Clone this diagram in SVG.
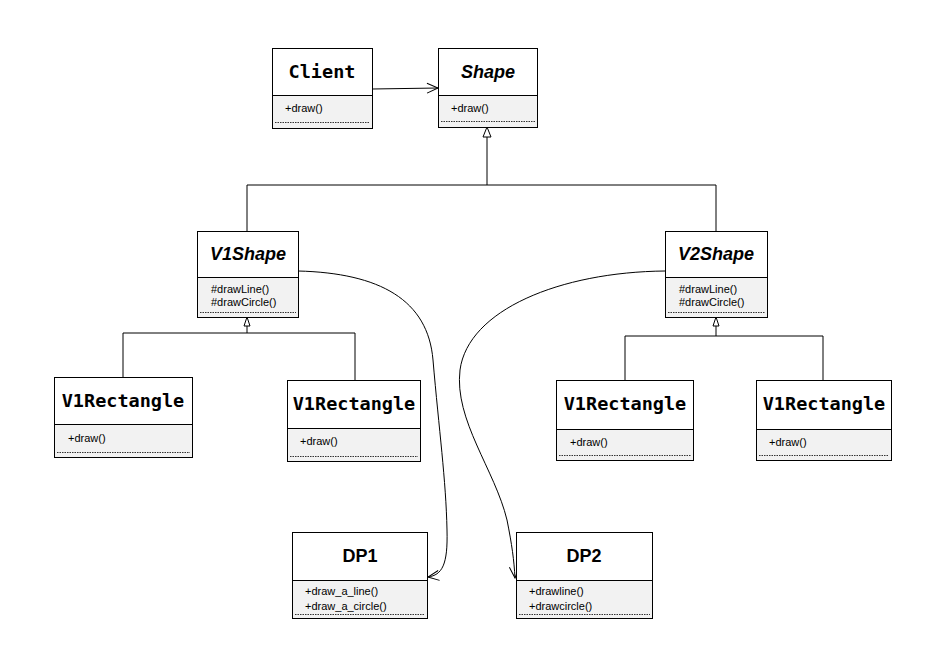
<svg xmlns="http://www.w3.org/2000/svg" width="944" height="657" viewBox="0 0 944 657">
<defs>
<style>
.box{fill:#fff;stroke:#000;stroke-width:1}
.comp{fill:#f2f2f2;stroke:#000;stroke-width:1}
.dash{stroke:#333;stroke-width:1;stroke-dasharray:1.5 1}
.mono{font-family:"DejaVu Sans Mono","Liberation Mono",monospace;font-weight:bold;font-size:18.5px;text-anchor:middle}
.ital{font-family:"Liberation Sans",Arial,sans-serif;font-weight:bold;font-style:italic;font-size:18px;text-anchor:middle}
.sans{font-family:"Liberation Sans",Arial,sans-serif;font-weight:bold;font-size:18px;text-anchor:middle}
.mem{font-family:"Liberation Sans",Arial,sans-serif;font-size:11px;fill:#000}
.ln{fill:none;stroke:#000;stroke-width:1}
.tri{fill:#fff;stroke:#000;stroke-width:1}
</style>
<marker id="open" markerWidth="14" markerHeight="12" refX="12" refY="6" orient="auto" markerUnits="userSpaceOnUse">
<path d="M1,1 L12,6 L1,11" fill="none" stroke="#000" stroke-width="1"/>
</marker>
</defs>
<rect width="944" height="657" fill="#fff"/>

<g id="connectors">
<path class="ln" d="M372,89 L438,88" marker-end="url(#open)"/>
<path class="ln" d="M487,137 V185 M247,185 H716 M247,185 V231 M716,185 V231"/>
<polygon class="tri" points="487,127 483,137 491,137"/>
<path class="ln" d="M247,326 V333 M123,333 H355 M123,333 V377 M355,333 V380"/>
<polygon class="tri" points="247,317 244,326 250,326"/>
<path class="ln" d="M716,326 V336 M625,336 H823 M625,336 V380 M823,336 V380"/>
<polygon class="tri" points="716,317 713,326 719,326"/>
<path class="ln" d="M298,271 C380,273 428,300 433,360 C439,430 446,480 447,530 C448,565 442,575 428,577" marker-end="url(#open)"/>
<path class="ln" d="M665,271 C560,272 468,310 460,370 C454,420 495,470 507,520 C512,545 514,560 515,578" marker-end="url(#open)"/>
</g>

<g id="client">
<rect class="box" x="272.5" y="48.5" width="100" height="80"/>
<rect class="comp" x="272.5" y="95.5" width="100" height="33"/>
<line class="dash" x1="275" y1="122.5" x2="370" y2="122.5"/>
<text class="mono" x="322" y="78">Client</text>
<text class="mem" x="285" y="112">+draw()</text>
</g>

<g id="shape">
<rect class="box" x="438.5" y="48.5" width="99" height="79"/>
<rect class="comp" x="438.5" y="95.5" width="99" height="32"/>
<line class="dash" x1="441" y1="121.5" x2="535" y2="121.5"/>
<text class="ital" x="488" y="78">Shape</text>
<text class="mem" x="451" y="112">+draw()</text>
</g>

<g id="v1shape">
<rect class="box" x="197.5" y="231.5" width="101" height="86"/>
<rect class="comp" x="197.5" y="277.5" width="101" height="40"/>
<line class="dash" x1="200" y1="312.5" x2="296" y2="312.5"/>
<text class="ital" x="248" y="260">V1Shape</text>
<text class="mem" x="211" y="293">#drawLine()</text>
<text class="mem" x="211" y="306">#drawCircle()</text>
</g>

<g id="v2shape">
<rect class="box" x="665.5" y="231.5" width="102" height="86"/>
<rect class="comp" x="665.5" y="277.5" width="102" height="40"/>
<line class="dash" x1="668" y1="312.5" x2="765" y2="312.5"/>
<text class="ital" x="716" y="260">V2Shape</text>
<text class="mem" x="679" y="293">#drawLine()</text>
<text class="mem" x="679" y="306">#drawCircle()</text>
</g>

<g id="v1rect-a">
<rect class="box" x="54.5" y="377.5" width="138" height="80"/>
<rect class="comp" x="54.5" y="424.5" width="138" height="33"/>
<line class="dash" x1="57" y1="452.5" x2="190" y2="452.5"/>
<text class="mono" x="123" y="407">V1Rectangle</text>
<text class="mem" x="68" y="442">+draw()</text>
</g>

<g id="v1rect-b">
<rect class="box" x="287.5" y="380.5" width="133" height="81"/>
<rect class="comp" x="287.5" y="428.5" width="133" height="33"/>
<line class="dash" x1="290" y1="456.5" x2="418" y2="456.5"/>
<text class="mono" x="354" y="410">V1Rectangle</text>
<text class="mem" x="300" y="445">+draw()</text>
</g>

<g id="v1rect-c">
<rect class="box" x="556.5" y="380.5" width="137" height="80"/>
<rect class="comp" x="556.5" y="429.5" width="137" height="31"/>
<line class="dash" x1="559" y1="455.5" x2="691" y2="455.5"/>
<text class="mono" x="625" y="410">V1Rectangle</text>
<text class="mem" x="570" y="446">+draw()</text>
</g>

<g id="v1rect-d">
<rect class="box" x="756.5" y="380.5" width="135" height="80"/>
<rect class="comp" x="756.5" y="429.5" width="135" height="31"/>
<line class="dash" x1="759" y1="455.5" x2="889" y2="455.5"/>
<text class="mono" x="824" y="410">V1Rectangle</text>
<text class="mem" x="769" y="446">+draw()</text>
</g>

<g id="dp1">
<rect class="box" x="292.5" y="532.5" width="135" height="86"/>
<rect class="comp" x="292.5" y="580.5" width="135" height="38"/>
<line class="dash" x1="295" y1="614.5" x2="425" y2="614.5"/>
<text class="sans" x="360" y="562">DP1</text>
<text class="mem" x="305" y="595">+draw_a_line()</text>
<text class="mem" x="305" y="610">+draw_a_circle()</text>
</g>

<g id="dp2">
<rect class="box" x="516.5" y="532.5" width="136" height="86"/>
<rect class="comp" x="516.5" y="580.5" width="136" height="38"/>
<line class="dash" x1="519" y1="614.5" x2="650" y2="614.5"/>
<text class="sans" x="584" y="562">DP2</text>
<text class="mem" x="529" y="595">+drawline()</text>
<text class="mem" x="529" y="610">+drawcircle()</text>
</g>
</svg>
